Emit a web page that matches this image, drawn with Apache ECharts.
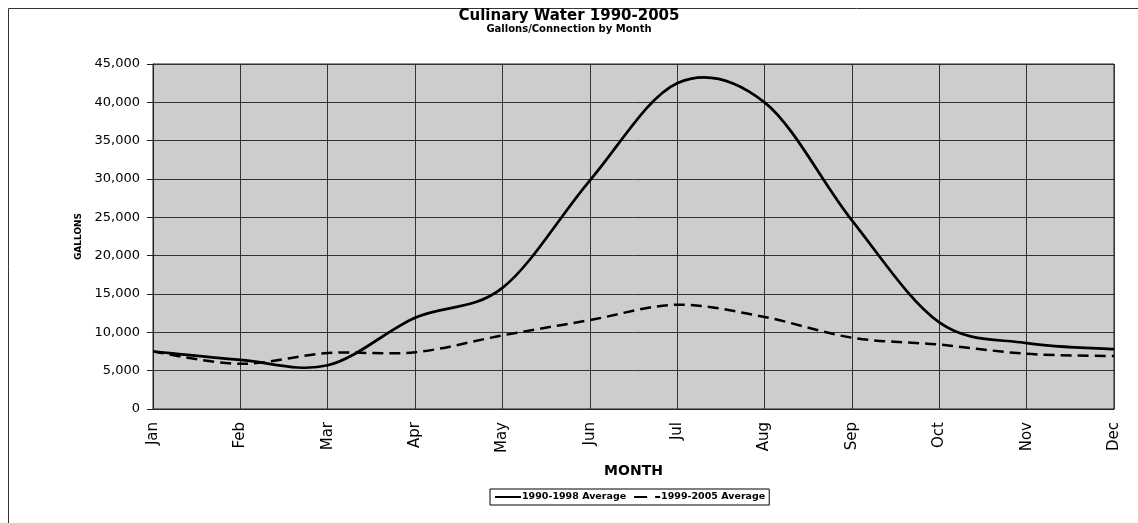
<!DOCTYPE html>
<html>
<head>
<meta charset="utf-8">
<script src="https://cdn.jsdelivr.net/npm/echarts@6/dist/echarts.min.js"></script>
<style>
  html, body { margin: 0; padding: 0; background: #fff; }
  #chart { width: 1138px; height: 523px; }
</style>
</head>
<body>
<div id="chart"></div>
<script>
// monthly gallons per connection
const months = ['Jan', 'Feb', 'Mar', 'Apr', 'May', 'Jun', 'Jul', 'Aug', 'Sep', 'Oct', 'Nov', 'Dec']
const avg1990to1998 = [7500, 6400, 5700, 11900, 15800, 29800, 42500, 40000, 24600, 11300, 8600, 7800]
const avg1999to2005 = [7500, 5900, 7300, 7400, 9600, 11600, 13600, 12000, 9300, 8400, 7200, 6900]
const seriesNames = ['1990-1998 Average', '1999-2005 Average']

const font = 'DejaVu Sans, Verdana, sans-serif'
const chart = echarts.init(document.getElementById('chart'), null, { renderer: 'canvas' })

// spreadsheet-style smoothed line (catmull-rom, tension 1/6) - echarts' own
// smoothing clamps control points so the summer peak can't overshoot July
const smoothLine = (values, lineWidth, lineDash) => (params, api) => {
  if (params.dataIndex !== 0) return null
  const pts = values.map((v, i) => api.coord([i, v]))
  let d = 'M' + pts[0][0] + ',' + pts[0][1]
  for (let i = 0; i < pts.length - 1; i++) {
    const p0 = pts[i - 1] || pts[i]
    const p1 = pts[i]
    const p2 = pts[i + 1]
    const p3 = pts[i + 2] || pts[i + 1]
    const c1x = p1[0] + (p2[0] - p0[0]) / 6
    const c1y = p1[1] + (p2[1] - p0[1]) / 6
    const c2x = p2[0] - (p3[0] - p1[0]) / 6
    const c2y = p2[1] - (p3[1] - p1[1]) / 6
    d += ' C' + c1x + ',' + c1y + ' ' + c2x + ',' + c2y + ' ' + p2[0] + ',' + p2[1]
  }
  return {
    type: 'path',
    shape: { pathData: d },
    style: { fill: 'none', stroke: '#000', lineWidth, lineDash, lineJoin: 'round' }
  }
}

const option = {
  backgroundColor: '#fff',
  animation: false,
  textStyle: { fontFamily: font, color: '#000' },
  title: {
    text: 'Culinary Water 1990-2005',
    subtext: 'Gallons/Connection by Month',
    left: 'center',
    top: 4,
    itemGap: 0,
    textStyle: { fontSize: 15, fontWeight: 'bold', color: '#000', fontFamily: font },
    subtextStyle: { fontSize: 10, fontWeight: 'bold', color: '#000', fontFamily: font }
  },
  graphic: [
    {
      // chart frame: only left and top edges fall inside the picture
      type: 'rect',
      shape: { x: 8.5, y: 8.5, width: 1160, height: 540 },
      style: { fill: 'none', stroke: '#333', lineWidth: 1 },
      silent: true
    }
  ],
  legend: {
    left: 490,
    top: 489,
    orient: 'horizontal',
    data: seriesNames,
    itemWidth: 26,
    itemHeight: 10,
    itemGap: 7,
    padding: [3, 4],
    borderColor: '#000',
    borderWidth: 1,
    itemStyle: { opacity: 0 },
    textStyle: { fontSize: 9.5, fontWeight: 'bold', color: '#000', fontFamily: font, padding: [0, 0, 0, -4] }
  },
  grid: {
    left: 153,
    right: 24,
    top: 64,
    bottom: 114,
    show: true,
    backgroundColor: '#cdcdcd',
    borderColor: '#222',
    borderWidth: 1
  },
  xAxis: {
    type: 'category',
    data: months,
    boundaryGap: false,
    name: 'MONTH',
    nameLocation: 'middle',
    nameGap: 55,
    nameTextStyle: { fontSize: 14, fontWeight: 'bold', color: '#000' },
    axisLine: { lineStyle: { color: '#222', width: 1 } },
    axisTick: { show: false },
    axisLabel: { rotate: 90, fontSize: 15, color: '#000', margin: 13 },
    splitLine: { show: true, lineStyle: { color: '#333', width: 1 } }
  },
  yAxis: {
    type: 'value',
    min: 0,
    max: 45000,
    interval: 5000,
    name: 'GALLONS',
    nameLocation: 'middle',
    nameGap: 70,
    nameRotate: 90,
    nameTextStyle: { fontSize: 9, fontWeight: 'bold', color: '#000' },
    axisLine: { show: true, lineStyle: { color: '#222', width: 1 } },
    axisTick: { show: true, length: 6, lineStyle: { color: '#222' } },
    axisLabel: {
      fontSize: 13,
      color: '#000',
      margin: 13,
      formatter: (v) => v.toLocaleString('en-US')
    },
    splitLine: { show: true, lineStyle: { color: '#333', width: 1 } }
  },
  series: [
    // legend entries only
    {
      name: seriesNames[0],
      type: 'line',
      data: [],
      symbol: 'none',
      lineStyle: { color: '#000', width: 2, type: 'solid' },
      itemStyle: { color: '#000' }
    },
    {
      name: seriesNames[1],
      type: 'line',
      data: [],
      symbol: 'none',
      lineStyle: { color: '#000', width: 2, type: [13, 8] },
      itemStyle: { color: '#000' }
    },
    // the drawn curves
    {
      name: seriesNames[0],
      type: 'custom',
      data: avg1990to1998.map((v, i) => [i, v]),
      encode: { x: 0, y: 1 },
      renderItem: smoothLine(avg1990to1998, 2.7, null)
    },
    {
      name: seriesNames[1],
      type: 'custom',
      data: avg1999to2005.map((v, i) => [i, v]),
      encode: { x: 0, y: 1 },
      renderItem: smoothLine(avg1999to2005, 2.5, [11, 6])
    }
  ]
}

chart.setOption(option)
</script>
</body>
</html>
